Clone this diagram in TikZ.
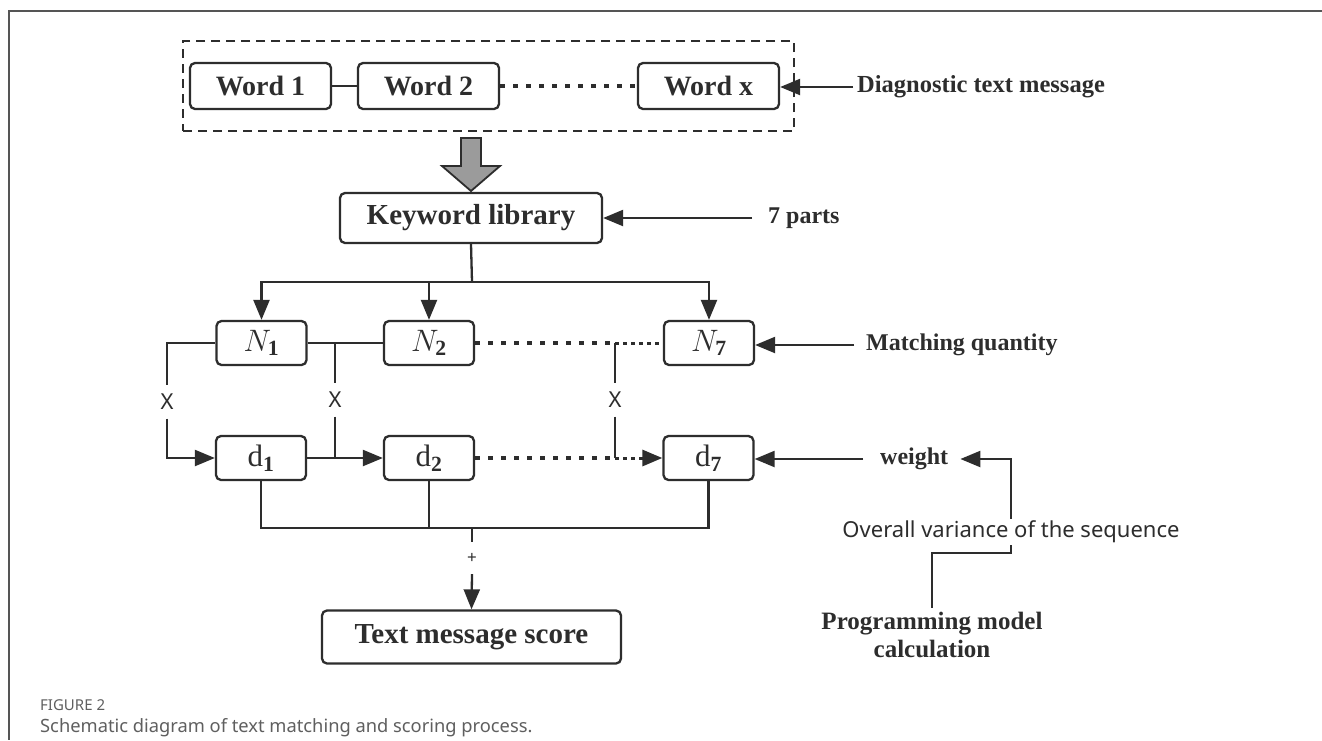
\documentclass[tikz,border=0pt]{standalone}
\usepackage{fix-cm}
\usepackage{fontspec}
\setmainfont{Liberation Serif}
\newfontfamily\sansf{Noto Sans}
\usetikzlibrary{arrows.meta,calc}
\definecolor{ink}{RGB}{45,45,45}
\definecolor{rulegray}{RGB}{85,85,85}
\definecolor{capgray}{RGB}{95,95,95}
\definecolor{arrowgray}{RGB}{155,155,155}
\begin{document}
\begin{tikzpicture}[x=1pt,y=-1pt,
  box/.style={draw=ink, line width=2.3pt, rounded corners=5pt, inner sep=0pt, text=ink},
  wordbox/.style={box, minimum width=141pt, minimum height=46pt, font=\fontsize{28}{32}\selectfont\bfseries},
  nbox/.style={box, minimum width=90pt, minimum height=44pt, font=\fontsize{31}{34}\selectfont},
  lbl/.style={inner sep=0pt, text=ink, font=\fontsize{24}{28}\selectfont\bfseries},
  xlbl/.style={inner sep=0pt, minimum height=33pt, text=ink, font=\sansf\fontsize{22}{24}\selectfont},
  ln/.style={draw=ink, line width=2.3pt},
  headed/.style={-{Triangle[length=20pt,width=16pt]}},
  arr/.style={ln, headed},
  bigdots/.style={draw=ink, line width=4.5pt, dash pattern=on 5pt off 8pt},
  smalldots/.style={draw=ink, line width=3pt, dash pattern=on 4pt off 4pt},
]
\useasboundingbox (0,0) rectangle (1322,740);
\fill[white] (0,0) rectangle (1322,740);
\draw[rulegray, line width=1.3pt] (1322,11) -- (9,11) -- (9,740);

% message container
\node[draw=ink, line width=2pt, dash pattern=on 9pt off 6pt, minimum width=611pt, minimum height=90pt, inner sep=0pt] (msg) at (488.5,86) {};
\node[wordbox] (W1) at (260.5,86) {Word 1};
\node[wordbox] (W2) at (428.5,86) {Word 2};
\node[wordbox] (Wx) at (708.5,86) {Word x};
\draw[ln] (W1.east) -- (W2.west);
\draw[bigdots] (W2.east) -- (Wx.west);
\node[lbl, anchor=west, font=\fontsize{24.5}{28}\selectfont\bfseries] (diag) at (857,87) {Diagnostic text message};
\draw[arr, shorten <=4pt] (diag.west) -- (diag.west -| Wx.east);

% big gray arrow
\filldraw[fill=arrowgray, draw=ink, line width=1.8pt, line join=miter]
  (461,138) -- (481,138) -- (481,166) -- (500,166) -- (471,191) -- (442,166) -- (461,166) -- cycle;

\node[box, minimum width=262pt, minimum height=50pt, font=\fontsize{29}{32}\selectfont\bfseries] (kw) at (471,218) {Keyword library};
\node[lbl, anchor=west] (parts) at (768,218) {7 parts};
\draw[arr, shorten <=16pt] (parts.west) -- (parts.west -| kw.east);

% N row
\node[nbox] (N1) at (261.5,343) {$N_{\mathbf{1}}$};
\node[nbox] (N2) at (429,343) {$N_{\mathbf{2}}$};
\node[nbox] (N7) at (709,343) {$N_{\mathbf{7}}$};
\coordinate (busT) at (472,282);
\draw[ln] (kw.south) -- (busT);
\draw[arr] (busT) -| (N1.north);
\draw[arr] (busT) -| (N7.north);
\draw[arr] (N2.north |- busT) -- (N2.north);
\node[lbl, anchor=west] (match) at (866,345) {Matching quantity};
\draw[arr, shorten <=12pt] (match.west) -- (match.west -| N7.east);

% d row
\node[nbox] (d1) at (261,458) {$\mathrm{d}_{\mathbf{1}}$};
\node[nbox] (d2) at (429,458) {$\mathrm{d}_{\mathbf{2}}$};
\node[nbox] (d7) at (708.5,458) {$\mathrm{d}_{\mathbf{7}}$};

\node[xlbl] (x1) at (167,402) {X};
\node[xlbl] (x2) at (335,400) {X};
\node[xlbl] (x3) at (615,400) {X};

\draw[ln] (N1.west) -| (x1.north);
\draw[arr] (x1.south) |- (d1.west);
\draw[ln] (N1.east) -- (N2.west);
\draw[ln] (N1.east -| x2) -- (x2.north);
\draw[ln] (x2.south) -- (x2 |- d1.east);
\draw[arr] (d1.east) -- (d2.west);
\draw[bigdots] (N2.east) -- (N2.east -| x3);
\draw[smalldots] (N2.east -| x3) -- (N7.west);
\draw[ln] (N2.east -| x3) -- (x3.north);
\draw[ln] (x3.south) -- (x3 |- d2.east);
\draw[bigdots] (d2.east) -- (d2.east -| x3);
\draw[smalldots, headed] (d2.east -| x3) -- (d7.west);

% weight chain
\node[lbl, anchor=west] (weight) at (880,459) {weight};
\draw[arr, shorten <=17pt] (weight.west) -- (weight.west -| d7.east);
\node[inner sep=0pt, inner ysep=2pt, text=ink, font=\sansf\fontsize{22}{26}\selectfont] (var) at (1011,532) {Overall variance of the sequence};
\draw[arr, shorten >=12pt] (var.north) |- (weight.east);
\node[lbl, align=center, inner ysep=4pt, font=\fontsize{25}{28}\selectfont\bfseries] (prog) at (932,635) {Programming model\\calculation};
\draw[ln] (var.south) -- ++(0,8) -| (prog.north);

% sum
\coordinate (busB) at (472,528);
\draw[ln] (d1.south) |- (busB);
\draw[ln] (d7.south) |- (busB);
\draw[ln] (d2.south) -- (d2.south |- busB);
\node[inner sep=0pt, minimum height=32pt, text=ink, font=\sansf\fontsize{17}{18}\selectfont] (plus) at (472,558) {+};
\node[box, minimum width=299pt, minimum height=53pt, font=\fontsize{29}{33}\selectfont\bfseries] (score) at (471.5,637) {Text message score};
\draw[ln] (busB) -- (plus.north);
\draw[arr] (plus.south) -- (score.north);

% caption
\node[anchor=west, inner sep=0pt, text=capgray, font=\sansf\fontsize{15}{18}\selectfont] (fig) at (40,705) {FIGURE 2};
\node[anchor=west, inner sep=0pt, text=capgray, font=\sansf\fontsize{18.3}{22}\selectfont] (cap) at (40,728) {Schematic diagram of text matching and scoring process.};
\end{tikzpicture}
\end{document}
